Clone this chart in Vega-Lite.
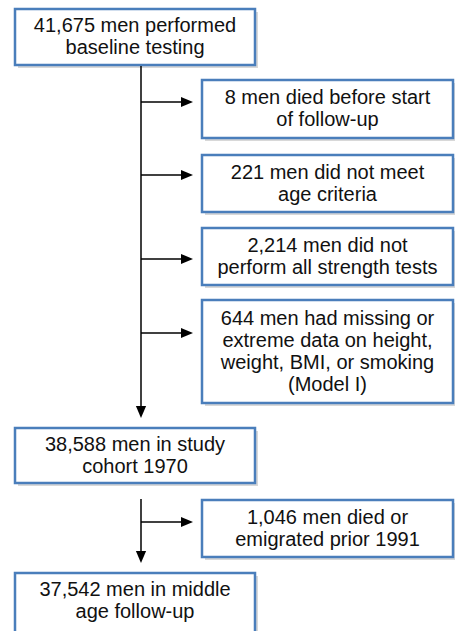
{
  "$schema": "https://vega.github.io/schema/vega-lite/v6.json",
  "width": 455,
  "height": 631,
  "padding": 0,
  "autosize": "none",
  "background": "white",
  "config": {"view": {"stroke": null}},
  "datasets": {
    "boxes": [
      {"id": "b1", "x": 15, "x2": 255, "y": 9, "y2": 65, "cx": 135, "ty": 26, "label": ["41,675 men performed", "baseline testing"]},
      {"id": "b2", "x": 202, "x2": 453, "y": 80, "y2": 138, "cx": 327.5, "ty": 98, "label": ["8 men died before start", "of follow-up"]},
      {"id": "b3", "x": 202, "x2": 453, "y": 155, "y2": 212, "cx": 327.5, "ty": 172.5, "label": ["221 men did not meet", "age criteria"]},
      {"id": "b4", "x": 202, "x2": 453, "y": 228, "y2": 285, "cx": 327.5, "ty": 245.5, "label": ["2,214 men did not", "perform all strength tests"]},
      {"id": "b5", "x": 202, "x2": 453, "y": 300, "y2": 403, "cx": 327.5, "ty": 318.5, "label": ["644 men had missing or", "extreme data on height,", "weight, BMI, or smoking", "(Model I)"]},
      {"id": "b6", "x": 15, "x2": 255, "y": 428, "y2": 483, "cx": 135, "ty": 444.5, "label": ["38,588 men in study", "cohort 1970"]},
      {"id": "b7", "x": 202, "x2": 453, "y": 500, "y2": 557, "cx": 327.5, "ty": 517.5, "label": ["1,046 men died or", "emigrated prior 1991"]},
      {"id": "b8", "x": 15, "x2": 255, "y": 573, "y2": 640, "cx": 135, "ty": 590, "label": ["37,542 men in middle", "age follow-up"]}
    ],
    "lines": [
      {"x": 141, "x2": 141, "y": 66, "y2": 412},
      {"x": 141, "x2": 186, "y": 102, "y2": 102},
      {"x": 141, "x2": 186, "y": 175, "y2": 175},
      {"x": 141, "x2": 186, "y": 259, "y2": 259},
      {"x": 141, "x2": 186, "y": 333, "y2": 333},
      {"x": 141, "x2": 141, "y": 499, "y2": 557},
      {"x": 141, "x2": 186, "y": 522, "y2": 522}
    ],
    "heads": [
      {"x": 193, "y": 102, "dir": "right"},
      {"x": 193, "y": 175, "dir": "right"},
      {"x": 193, "y": 259, "dir": "right"},
      {"x": 193, "y": 333, "dir": "right"},
      {"x": 193, "y": 522, "dir": "right"},
      {"x": 141, "y": 418, "dir": "down"},
      {"x": 141, "y": 563, "dir": "down"}
    ]
  },
  "layer": [
    {
      "data": {"name": "boxes"},
      "mark": {"type": "rect", "fill": "#c8c8c8", "opacity": 0.7, "xOffset": 3, "x2Offset": 3, "yOffset": 3, "y2Offset": 3},
      "encoding": {
        "x": {"field": "x", "type": "quantitative", "scale": {"domain": [0, 455], "nice": false, "zero": false}, "axis": null},
        "x2": {"field": "x2"},
        "y": {"field": "y", "type": "quantitative", "scale": {"domain": [0, 631], "nice": false, "zero": false, "reverse": true}, "axis": null},
        "y2": {"field": "y2"}
      }
    },
    {
      "data": {"name": "boxes"},
      "mark": {"type": "rect", "fill": "white", "stroke": "#4a7ebb", "strokeWidth": 2.5},
      "encoding": {
        "x": {"field": "x", "type": "quantitative"},
        "x2": {"field": "x2"},
        "y": {"field": "y", "type": "quantitative"},
        "y2": {"field": "y2"}
      }
    },
    {
      "data": {"name": "lines"},
      "mark": {"type": "rule", "color": "#000000", "strokeWidth": 1.5},
      "encoding": {
        "x": {"field": "x", "type": "quantitative"},
        "x2": {"field": "x2"},
        "y": {"field": "y", "type": "quantitative"},
        "y2": {"field": "y2"}
      }
    },
    {
      "data": {"name": "heads"},
      "transform": [{"filter": "datum.dir == 'right'"}],
      "mark": {"type": "point", "shape": "M-2,-0.85L0,0L-2,0.85Z", "filled": true, "color": "#000000", "size": 144, "opacity": 1},
      "encoding": {
        "x": {"field": "x", "type": "quantitative"},
        "y": {"field": "y", "type": "quantitative"}
      }
    },
    {
      "data": {"name": "heads"},
      "transform": [{"filter": "datum.dir == 'down'"}],
      "mark": {"type": "point", "shape": "M-0.85,-2L0,0L0.85,-2Z", "filled": true, "color": "#000000", "size": 144, "opacity": 1},
      "encoding": {
        "x": {"field": "x", "type": "quantitative"},
        "y": {"field": "y", "type": "quantitative"}
      }
    },
    {
      "data": {"name": "boxes"},
      "mark": {"type": "text", "font": "Liberation Sans", "fontSize": 20, "lineHeight": 22, "align": "center", "baseline": "middle", "color": "#111111"},
      "encoding": {
        "x": {"field": "cx", "type": "quantitative"},
        "y": {"field": "ty", "type": "quantitative"},
        "text": {"field": "label"}
      }
    }
  ]
}
